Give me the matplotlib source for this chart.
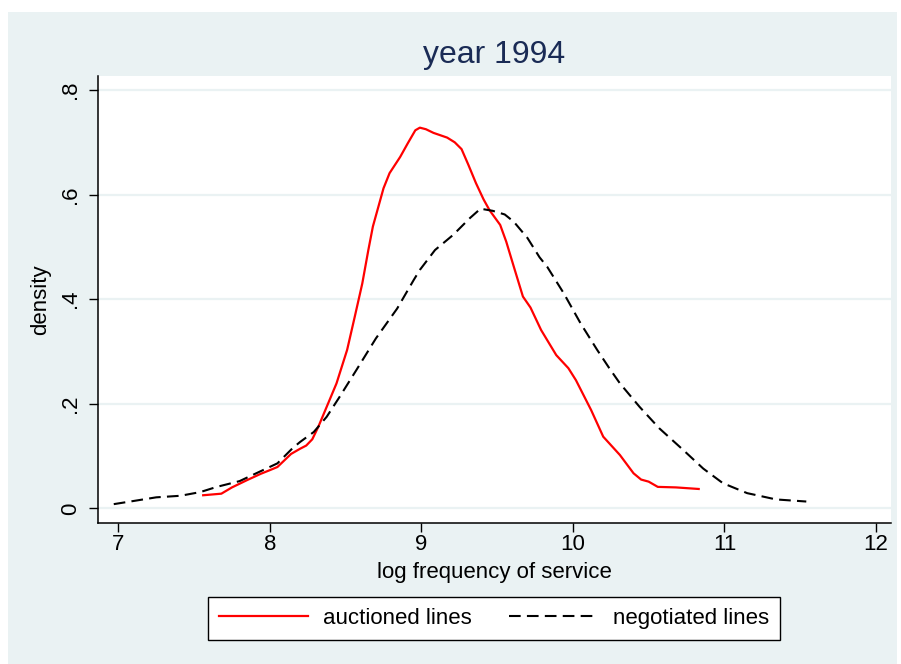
#!/usr/bin/env python
import matplotlib
matplotlib.use("Agg")
import matplotlib.pyplot as plt
from matplotlib.patches import Rectangle

plt.rcParams['font.family'] = ['Liberation Sans', 'DejaVu Sans']

# auctioned lines (kernel density)
auc_x = [7.56, 7.68, 7.75, 7.85, 7.94, 8.00, 8.05, 8.14, 8.20, 8.24, 8.28, 8.32,
         8.375, 8.44, 8.51, 8.56, 8.61, 8.65, 8.68, 8.75, 8.79, 8.86, 8.91, 8.96,
         8.99, 9.03, 9.08, 9.12, 9.17, 9.22, 9.265, 9.31, 9.36, 9.41, 9.45, 9.52,
         9.56, 9.61, 9.67, 9.72, 9.79, 9.89, 9.97, 10.02, 10.12, 10.20, 10.31,
         10.40, 10.45, 10.50, 10.56, 10.68, 10.83]
auc_y = [0.025, 0.028, 0.040, 0.054, 0.066, 0.073, 0.079, 0.104, 0.114, 0.120,
         0.132, 0.156, 0.194, 0.239, 0.303, 0.366, 0.430, 0.494, 0.539, 0.612,
         0.641, 0.672, 0.698, 0.723, 0.728, 0.725, 0.718, 0.714, 0.709, 0.700,
         0.687, 0.657, 0.622, 0.591, 0.570, 0.542, 0.510, 0.462, 0.405, 0.384,
         0.341, 0.293, 0.268, 0.245, 0.188, 0.137, 0.102, 0.067, 0.055, 0.051,
         0.041, 0.040, 0.037]

# negotiated lines
neg_x = [6.97, 7.10, 7.25, 7.41, 7.54, 7.65, 7.80, 7.91, 8.05, 8.15, 8.20, 8.29,
         8.375, 8.46, 8.57, 8.70, 8.84, 8.95, 8.99, 9.09, 9.21, 9.32, 9.39, 9.47,
         9.55, 9.61, 9.70, 9.78, 9.83, 9.94, 10.05, 10.16, 10.24, 10.31, 10.44,
         10.57, 10.73, 10.86, 10.99, 11.15, 11.23, 11.34, 11.54]
neg_y = [0.008, 0.014, 0.021, 0.024, 0.031, 0.041, 0.052, 0.067, 0.086, 0.115,
         0.127, 0.146, 0.175, 0.213, 0.264, 0.325, 0.382, 0.437, 0.456, 0.494,
         0.523, 0.555, 0.573, 0.569, 0.562, 0.548, 0.517, 0.480, 0.462, 0.411,
         0.354, 0.303, 0.268, 0.239, 0.194, 0.153, 0.111, 0.076, 0.048, 0.029,
         0.024, 0.017, 0.013]

x_ticks = [7, 8, 9, 10, 11, 12]
y_ticks = [0, 0.2, 0.4, 0.6, 0.8]
y_tick_labels = ['0', '.2', '.4', '.6', '.8']

W, H = 901, 664
bg = '#eaf2f3'
fs = 16

fig = plt.figure(figsize=(W / 100, H / 100), dpi=100)
fig.patch.set_facecolor('white')
fig.patches.append(Rectangle((8 / W, 0), (897 - 8) / W, (H - 12) / H,
                             transform=fig.transFigure, facecolor=bg,
                             edgecolor='none', zorder=-5))

ax = fig.add_axes([98 / W, (H - 522.7) / H, (891 - 98) / W, (522.7 - 76) / H])
ax.set_facecolor('white')

ax.plot(auc_x, auc_y, color='#ff0000', lw=1.6, label='auctioned lines', zorder=3,
        solid_joinstyle='round')
ax.plot(neg_x, neg_y, color='black', lw=1.5, linestyle=(0, (5.6, 3.0)),
        label='negotiated lines', zorder=3)

ax.set_xlim(6.866, 12.099)
ax.set_ylim(-0.0275, 0.8268)
ax.set_xticks(x_ticks)
ax.set_yticks(y_ticks)
ax.set_yticklabels(y_tick_labels, rotation=90, va='center')
ax.grid(axis='y', color=bg, lw=1.6)
ax.set_axisbelow(True)

for s in ['top', 'right']:
    ax.spines[s].set_visible(False)
for s in ['left', 'bottom']:
    ax.spines[s].set_color('black')
    ax.spines[s].set_linewidth(1.1)

ax.tick_params(axis='both', direction='out', length=6.5, width=1.0,
               labelsize=fs, colors='black')
ax.tick_params(axis='x', pad=1.5)
ax.tick_params(axis='y', pad=6)

ax.set_xlabel('log frequency of service', fontsize=fs, labelpad=5)
ax.set_ylabel('density', fontsize=fs, labelpad=6)

fig.text(494 / W, 1 - 63 / H, 'year 1994', ha='center', va='baseline',
         fontsize=23, color='#1a2b55')

leg = fig.legend(loc='center', bbox_to_anchor=(494 / W, 1 - 618.5 / H), ncol=2,
                 fontsize=fs, frameon=True, fancybox=False, edgecolor='black',
                 framealpha=1, handlelength=4.0, handletextpad=0.65,
                 columnspacing=1.7, borderpad=0.5)
leg.get_frame().set_linewidth(1.0)

fig.savefig('out.png', dpi=100, facecolor=fig.get_facecolor())
